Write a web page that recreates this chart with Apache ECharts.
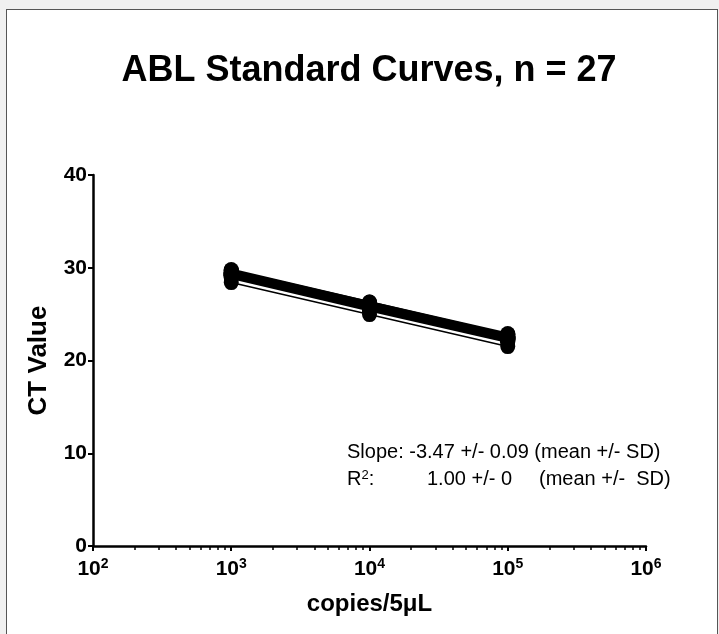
<!DOCTYPE html>
<html>
<head>
<meta charset="utf-8">
<script src="https://cdn.jsdelivr.net/npm/echarts@6/dist/echarts.min.js"></script>
<style>
  body { margin: 0; background: #f0f0f0; }
  #frame { position: absolute; left: 6px; top: 9px; width: 710px; height: 640px; background: #fff; border: 1px solid #555; }
  #main { position: absolute; left: 0; top: 0; width: 719px; height: 634px; }
</style>
</head>
<body>
<div id="frame"></div>
<div id="main"></div>
<script>
// copies per 5 uL (x) and CT values of the 27 standard curves
const copies = [1000, 10000, 100000];
const ct1e3 = [29.8, 29.7, 29.7, 29.6, 29.6, 29.5, 29.5, 29.5, 29.4, 29.4, 29.4, 29.3, 29.3, 29.3,
  29.3, 29.2, 29.2, 29.2, 29.1, 29.1, 29.1, 29.0, 29.0, 28.9, 29.5, 29.4, 28.4];
const ct1e4 = [26.3, 26.3, 26.2, 26.2, 26.1, 26.1, 26.0, 26.0, 26.0, 25.9, 25.9, 25.9, 25.8, 25.8,
  25.8, 25.7, 25.7, 25.7, 25.6, 25.6, 25.6, 25.5, 25.5, 25.4, 26.0, 25.9, 24.95];
const ct1e5 = [22.9, 22.8, 22.8, 22.7, 22.7, 22.6, 22.6, 22.6, 22.5, 22.5, 22.5, 22.4, 22.4, 22.4,
  22.4, 22.3, 22.3, 22.3, 22.2, 22.2, 22.2, 22.1, 22.1, 22.0, 22.6, 22.5, 21.5];
const yTicks = [0, 10, 20, 30, 40];

const font = 'Liberation Sans, Arial, sans-serif';
const chart = echarts.init(document.getElementById('main'));

const series = ct1e3.map((v, i) => ({
  type: 'line',
  data: [[copies[0], ct1e3[i]], [copies[1], ct1e4[i]], [copies[2], ct1e5[i]]],
  symbol: 'circle',
  symbolSize: 15,
  itemStyle: { color: '#000' },
  lineStyle: { color: '#000', width: i === ct1e3.length - 1 ? 1.6 : 2.2 },
  animation: false,
  z: 2
}));

chart.setOption({
  backgroundColor: 'transparent',
  title: {
    text: 'ABL Standard Curves, n = 27',
    left: 364, top: 48, textAlign: 'center',
    textStyle: { fontFamily: font, fontSize: 36, fontWeight: 'bold', color: '#000' }
  },
  grid: { left: 93, right: 73, top: 175, bottom: 88 },
  xAxis: {
    type: 'log', logBase: 10, min: 100, max: 1000000,
    name: 'copies/5\u03bcL', nameLocation: 'middle', nameGap: 46,
    nameTextStyle: { fontFamily: font, fontSize: 24, fontWeight: 'bold', color: '#000' },
    axisLine: { lineStyle: { color: '#000', width: 2.5 } },
    axisTick: { length: 5, lineStyle: { color: '#000', width: 2 } },
    minorTick: { show: true, splitNumber: 9, length: 4, lineStyle: { color: '#000', width: 1.5 } },
    splitLine: { show: false },
    axisLabel: {
      margin: 11,
      formatter: v => '{b|10}{s|' + Math.round(Math.log10(v)) + '}',
      rich: {
        b: { fontFamily: font, fontSize: 21, fontWeight: 'bold', color: '#000' },
        s: { fontFamily: font, fontSize: 14, fontWeight: 'bold', color: '#000', verticalAlign: 'top', padding: [0, 0, 10, 0] }
      }
    }
  },
  yAxis: {
    type: 'value', min: yTicks[0], max: yTicks[yTicks.length - 1], interval: 10,
    name: 'CT Value', nameLocation: 'middle', nameGap: 41,
    nameTextStyle: { fontFamily: font, fontSize: 26, fontWeight: 'bold', color: '#000' },
    axisLine: { show: true, lineStyle: { color: '#000', width: 2.5 } },
    axisTick: { show: true, length: 5, lineStyle: { color: '#000', width: 2 } },
    splitLine: { show: false },
    axisLabel: { margin: 6, fontFamily: font, fontSize: 21, fontWeight: 'bold', color: '#000' }
  },
  graphic: [
    { type: 'text', left: 347, top: 442, style: { text: 'Slope: -3.47 +/- 0.09 (mean +/- SD)', font: '20px ' + font, fill: '#000' } },
    { type: 'text', left: 347, top: 469, style: {
      text: '{n|R}{s|2}{n|:}', fill: '#000',
      rich: { n: { font: '20px ' + font, fill: '#000' }, s: { font: '13px ' + font, fill: '#000', verticalAlign: 'top', padding: [0, 0, 8, 0] } }
    } },
    { type: 'text', left: 427, top: 469, style: { text: '1.00 +/- 0', font: '20px ' + font, fill: '#000' } },
    { type: 'text', left: 539, top: 469, style: { text: '(mean +/-  SD)', font: '20px ' + font, fill: '#000' } }
  ],
  series: series
});
</script>
</body>
</html>
